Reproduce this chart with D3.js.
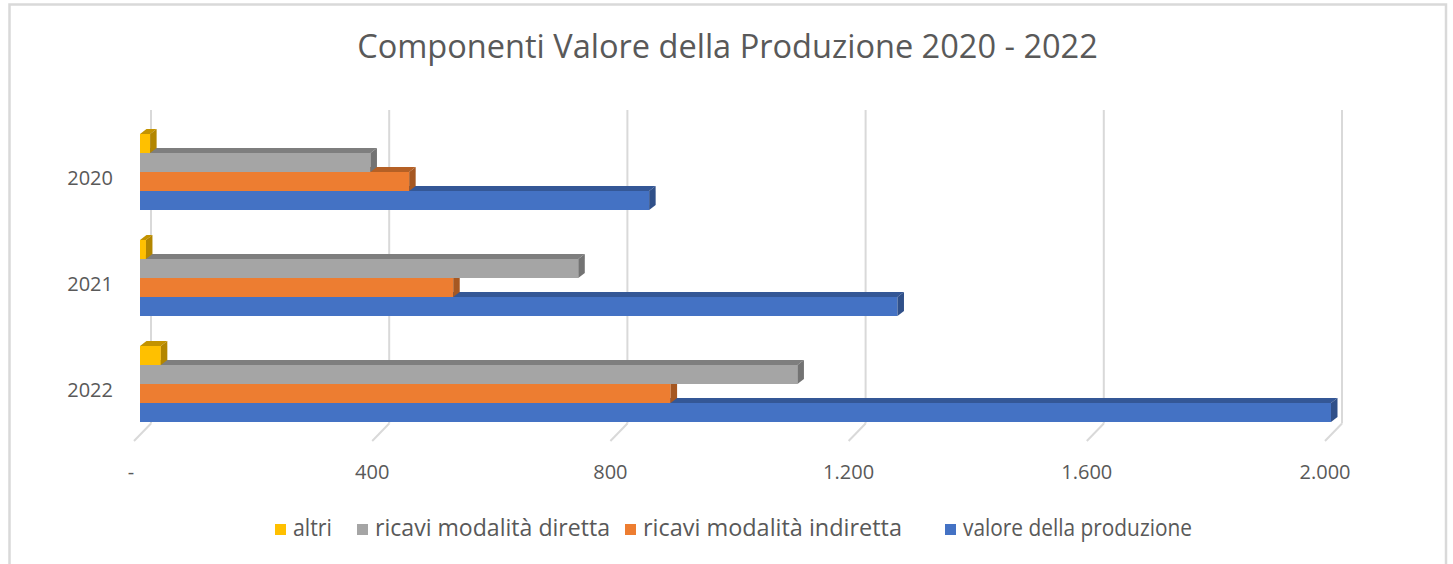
<!DOCTYPE html>
<html>
<head>
<meta charset="utf-8">
<script src="https://cdn.jsdelivr.net/npm/d3@7"></script>
<style>
  body { margin: 0; background: #fff; }
  svg { display: block; }
  text { font-family: "Open Sans", "Noto Sans", sans-serif; fill: #595959; }
</style>
</head>
<body>
<div id="chart"></div>
<script>
    // Data
    years = ["2020", "2021", "2022"]
    series_names = ["altri", "ricavi modalità diretta", "ricavi modalità indiretta", "valore della produzione"]
    altri = [17, 10, 35]
    ricavi_diretta = [387, 736, 1104]
    ricavi_indiretta = [452, 526, 891]
    valore_produzione = [855, 1272, 2000]
    series_colors = ["#FFC000", "#A5A5A5", "#ED7D31", "#4472C4"]
    tick_values = [0, 400, 800, 1200, 1600, 2000]
    title_text = "Componenti Valore della Produzione 2020 - 2022"

    series_values = [altri, ricavi_diretta, ricavi_indiretta, valore_produzione]

    // Setup
    canvas = ({width: 1453, height: 564})
    depth = ({dx: 6.5, dy: -5})          // bar depth
    wall = ({dx: 11, top: 110, bottom: 423.5})  // back wall offset
    floor_d = ({dx: -17, dy: 17.5})      // floor front edge from back wall
    legend_x = [275, 357, 625, 945]      // legend item left edges
    legend_w = [39, 235, 259, 229]       // legend text widths on the picture

    it_fmt = d3.formatLocale({decimal: ",", thousands: ".", grouping: [3], currency: ["€", ""]}).format(",d")

    var svg = d3.select("#chart").append("svg")
        .attr("width", canvas.width)
        .attr("height", canvas.height)

    // border
    svg.append("rect")
        .attr("x", 9.5).attr("y", 4.5)
        .attr("width", 1436.5).attr("height", 640)
        .attr("fill", "#fff")
        .attr("stroke", "#d9d9d9")
        .attr("stroke-width", 2.5)

    x = d3.scaleLinear()
        .domain([0, 2000])
        .range([140, 1331])

    y = d3.scaleBand()
        .domain(years)
        .range([119, 437])
        .paddingInner(0.283)
        .paddingOuter(0.1415)

    y_inner = d3.scaleBand()
        .domain(series_names)
        .range([0, y.bandwidth()])

    // Gridlines on back wall
    svg.append("g").selectAll("line")
        .data(tick_values)
        .join("line")
        .attr("x1", d => x(d) + wall.dx)
        .attr("x2", d => x(d) + wall.dx)
        .attr("y1", wall.top)
        .attr("y2", wall.bottom)
        .attr("stroke", "#d9d9d9")
        .attr("stroke-width", 2)

    // slanted ticks on the floor
    svg.append("g").selectAll("line")
        .data(tick_values)
        .join("line")
        .attr("x1", d => x(d) + wall.dx)
        .attr("x2", d => x(d) + wall.dx + floor_d.dx)
        .attr("y1", wall.bottom)
        .attr("y2", wall.bottom + floor_d.dy)
        .attr("stroke", "#d9d9d9")
        .attr("stroke-width", 2)

    svg.append("g").selectAll("text")
        .data(tick_values)
        .join("text")
        .attr("x", d => x(d) + wall.dx + floor_d.dx - (d === 0 ? 3 : 0))
        .attr("y", 479)
        .attr("text-anchor", "middle")
        .style("font-size", "20px")
        .text(d => d === 0 ? "-" : it_fmt(d))

    // Bars (bottom series first so upper bars sit in front of lower top faces)
    var bars = svg.append("g")
    years.forEach(function(yr, j) {
        for (i = series_names.length - 1; i >= 0; i--) {
            var v = series_values[i][j]
            var c = series_colors[i]
            var x0 = x(0), x1 = x(v)
            var y0 = y(yr) + y_inner(series_names[i])
            var h = y_inner.bandwidth()
            var g = bars.append("g")
            g.append("rect")
                .attr("x", x0).attr("y", y0)
                .attr("width", x1 - x0).attr("height", h)
                .attr("fill", c)
            g.append("polygon")
                .attr("points", [[x0, y0], [x0 + depth.dx, y0 + depth.dy], [x1 + depth.dx, y0 + depth.dy], [x1, y0]].join(" "))
                .attr("fill", d3.color(c).darker(0.75))
            g.append("polygon")
                .attr("points", [[x1, y0], [x1 + depth.dx, y0 + depth.dy], [x1 + depth.dx, y0 + h + depth.dy], [x1, y0 + h]].join(" "))
                .attr("fill", d3.color(c).darker(1.0))
        }
    })

    // category labels
    svg.append("g").selectAll("text")
        .data(years)
        .join("text")
        .attr("x", 113)
        .attr("y", d => y(d) + y.bandwidth() / 2 + 13)
        .attr("text-anchor", "end")
        .style("font-size", "20px")
        .text(d => d)

    // fit a text element's font size to a width measured on the picture
    function fit(sel, target) {
        sel.style("font-size", "100px")
        var w = sel.node().getComputedTextLength()
        sel.style("font-size", (100 * target / w) + "px")
        return sel
    }

    // Title
    var title = svg.append("text")
        .attr("x", 727.5)
        .attr("y", 58)
        .attr("text-anchor", "middle")
        .text(title_text)
    fit(title, 741)

    // Legend
    var probe = svg.append("text").text(series_names[1])
    fit(probe, 235)
    var legend_fs = probe.style("font-size")
    probe.remove()

    var items = svg.append("g").selectAll("g")
        .data(series_names)
        .join("g")
        .attr("transform", (d, i) => `translate(${legend_x[i]},536)`)
    items.append("rect")
        .attr("width", 11).attr("height", 11)
        .attr("y", -12)
        .attr("fill", (d, i) => series_colors[i])
    items.append("text")
        .attr("x", 18)
        .attr("y", 0)
        .attr("textLength", (d, i) => legend_w[i])
        .attr("lengthAdjust", "spacingAndGlyphs")
        .style("font-size", legend_fs)
        .text(d => d)
</script>
</body>
</html>
